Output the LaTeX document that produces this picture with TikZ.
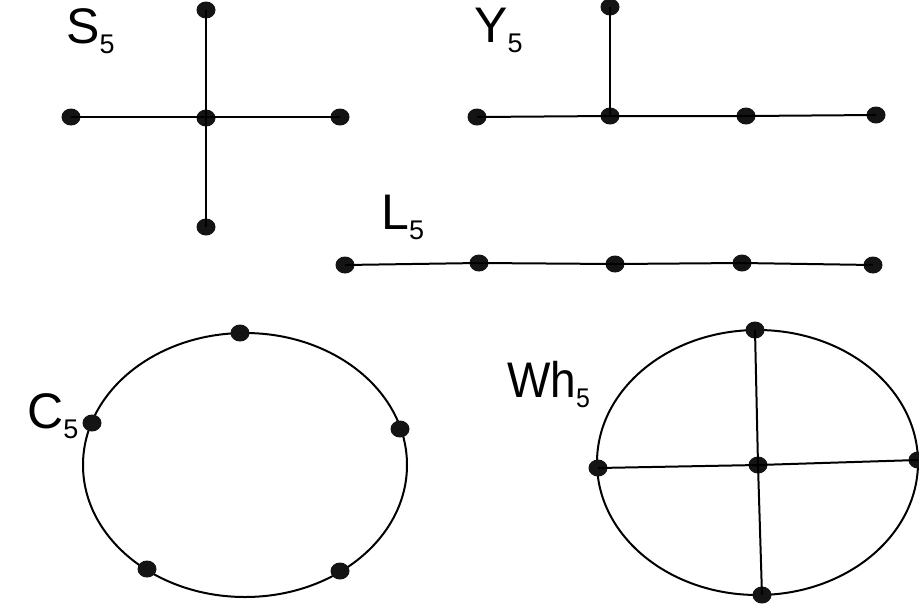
\documentclass[tikz,border=0pt]{standalone}
\usepackage{fontspec}
\usetikzlibrary{shapes.geometric}
\setmainfont{Liberation Sans}
\newcommand{\glab}[2]{{\fontsize{50}{50}\selectfont #1}\raisebox{-10pt}{\fontsize{27}{27}\selectfont #2}}
\begin{document}
\begin{tikzpicture}[x=1pt,y=-1pt,
  vtx/.style={ellipse,fill=black!92,inner sep=0pt,minimum width=19pt,minimum height=17pt},
  edge/.style={line width=2pt,black},
  lab/.style={anchor=base west,inner sep=0pt}]
\useasboundingbox (0,0) rectangle (919,606);
% S5
\node[lab] (sl) at (66,43) {\glab{S}{5}};
\node[vtx] (s0) at (206,118) {};
\node[vtx] (s1) at (206,10) {};
\node[vtx] (s2) at (206,227) {};
\node[vtx] (s3) at (71,117) {};
\node[vtx] (s4) at (340,117) {};
\draw[edge] (s1.center) -- (s2.center);
\draw[edge] (s3.center) -- (s4.center);
% Y5
\node[lab] (yl) at (474,42) {\glab{Y}{5}};
\node[vtx] (y0) at (610,116) {};
\node[vtx] (y1) at (610,7) {};
\node[vtx] (y2) at (477,117) {};
\node[vtx] (y3) at (746,116) {};
\node[vtx] (y4) at (876,115) {};
\draw[edge] (y1.center) -- (y0.center);
\draw[edge] (y2.center) -- (y0.center) -- (y3.center) -- (y4.center);
% L5
\node[lab] (ll) at (381,229) {\glab{L}{5}};
\node[vtx] (l1) at (345,265) {};
\node[vtx] (l2) at (479,263) {};
\node[vtx] (l3) at (615,264) {};
\node[vtx] (l4) at (742,263) {};
\node[vtx] (l5) at (873,265) {};
\draw[edge] (l1.center) -- (l2.center) -- (l3.center) -- (l4.center) -- (l5.center);
% C5
\node[lab] (cl) at (27,428) {\glab{C}{5}};
\draw[edge] (245,465) ellipse [x radius=162, y radius=132];
\node[vtx] (c1) at (240,333) {};
\node[vtx] (c2) at (92,423) {};
\node[vtx] (c3) at (400,429) {};
\node[vtx] (c4) at (147,569) {};
\node[vtx] (c5) at (340,571) {};
% Wh5
\node[lab] (wl) at (507,397) {\scalebox{0.92}[1]{\glab{Wh}{5}}};
\draw[edge] (757.5,462.5) ellipse [x radius=160.5, y radius=132.5];
\node[vtx] (w0) at (758,465) {};
\node[vtx] (w1) at (755,330) {};
\node[vtx] (w2) at (598,468) {};
\node[vtx] (w3) at (918,460) {};
\node[vtx] (w4) at (762,595) {};
\draw[edge] (w1.center) -- (w0.center) -- (w4.center);
\draw[edge] (w2.center) -- (w0.center) -- (w3.center);
\end{tikzpicture}
\end{document}
